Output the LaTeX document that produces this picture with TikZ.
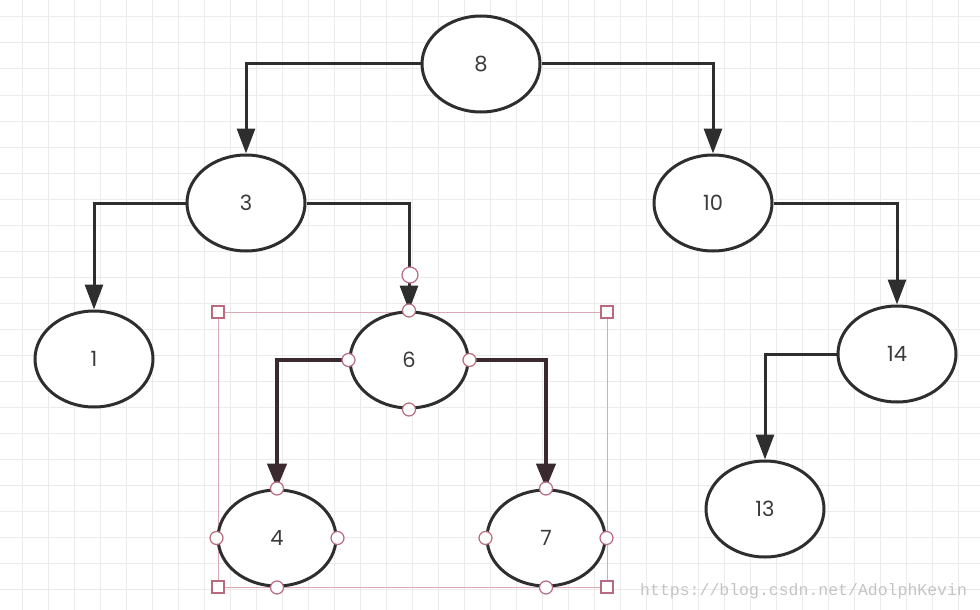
\documentclass[tikz,border=0pt]{standalone}
\usepackage{fontspec}
\setmainfont{Poppins}
\newfontfamily\wmfont{Liberation Mono}
\usetikzlibrary{arrows.meta,shapes.geometric}
\definecolor{gridc}{HTML}{EBEBEB}
\definecolor{edgec}{HTML}{2E2E2E}
\definecolor{selc}{HTML}{3A2A2F}
\definecolor{pinkc}{HTML}{D9A9B6}
\definecolor{handc}{HTML}{B86A7E}
\definecolor{txtc}{HTML}{3A3A3A}
\definecolor{wmc}{HTML}{C4C4C4}
\tikzset{
  treenode/.style={ellipse,draw=edgec,line width=3pt,fill=white,minimum width=118pt,minimum height=96pt,inner sep=0pt,text=txtc,font=\fontsize{21}{21}\selectfont},
  link/.style={draw=edgec,line width=3pt,-{Triangle[length=25pt,width=18pt]}},
  sellink/.style={draw=selc,line width=4.5pt,-{Triangle[length=25pt,width=19pt]}},
  handle/.style={circle,draw=handc,line width=1.2pt,fill=white,minimum size=13pt,inner sep=0pt},
  bighandle/.style={handle,minimum size=16pt},
  corner/.style={rectangle,draw=handc,line width=1.2pt,fill=white,minimum size=12pt,inner sep=0pt},
  selbox/.style={draw=pinkc,line width=1pt}
}
\begin{document}
\begin{tikzpicture}[x=1pt,y=-1pt]
\useasboundingbox (0,0) rectangle (980,610);
\fill[white] (0,0) rectangle (980,610);
% grid
\foreach \i in {0,...,37} {\draw[gridc,line width=1pt] ({22+26*\i},0) -- ({22+26*\i},610);}
\foreach \j in {0,...,23} {\draw[gridc,line width=1pt] (0,{17+26*\j}) -- (980,{17+26*\j});}
% selection box
\coordinate (sb1) at (218,312);
\coordinate (sb2) at (607,587);
\draw[selbox] (sb1) rectangle (sb2);
% nodes
\node[treenode] (n8) at (481,64) {8};
\node[treenode] (n3) at (246,203) {3};
\node[treenode] (n10) at (713,203) {10};
\node[treenode] (n1) at (94,359) {1};
\node[treenode] (n6) at (409,360) {6};
\node[treenode] (n14) at (897,354) {14};
\node[treenode] (n4) at (277,538) {4};
\node[treenode] (n7) at (546,538) {7};
\node[treenode] (n13) at (765,509) {13};
% connectors
\draw[link] (n8.west) -| (n3.north);
\draw[link] (n8.east) -| (n10.north);
\draw[link] (n3.west) -| (n1.north);
\draw[link] (n3.east) -| (n6.north);
\draw[link] (n10.east) -| (n14.north);
\draw[link] (n14.west) -| (n13.north);
\draw[sellink] (n6.west) -| (n4.north);
\draw[sellink] (n6.east) -| (n7.north);
% handles
\node[bighandle] (h0) at (410,275) {};
\foreach \n in {n6,n4,n7} {
  \node[handle] at (\n.north) {};
  \node[handle] at (\n.south) {};
  \node[handle] at (\n.west) {};
  \node[handle] at (\n.east) {};
}
\node[corner] (c1) at (218,312) {};
\node[corner] (c2) at (607,312) {};
\node[corner] (c3) at (218,587) {};
\node[corner] (c4) at (607,587) {};
% watermark
\node[text=wmc,font=\wmfont\fontsize{16.5}{16.5}\selectfont,anchor=west,inner sep=0pt] (wm) at (640,591) {https://blog.csdn.net/AdolphKevin};
\end{tikzpicture}
\end{document}
